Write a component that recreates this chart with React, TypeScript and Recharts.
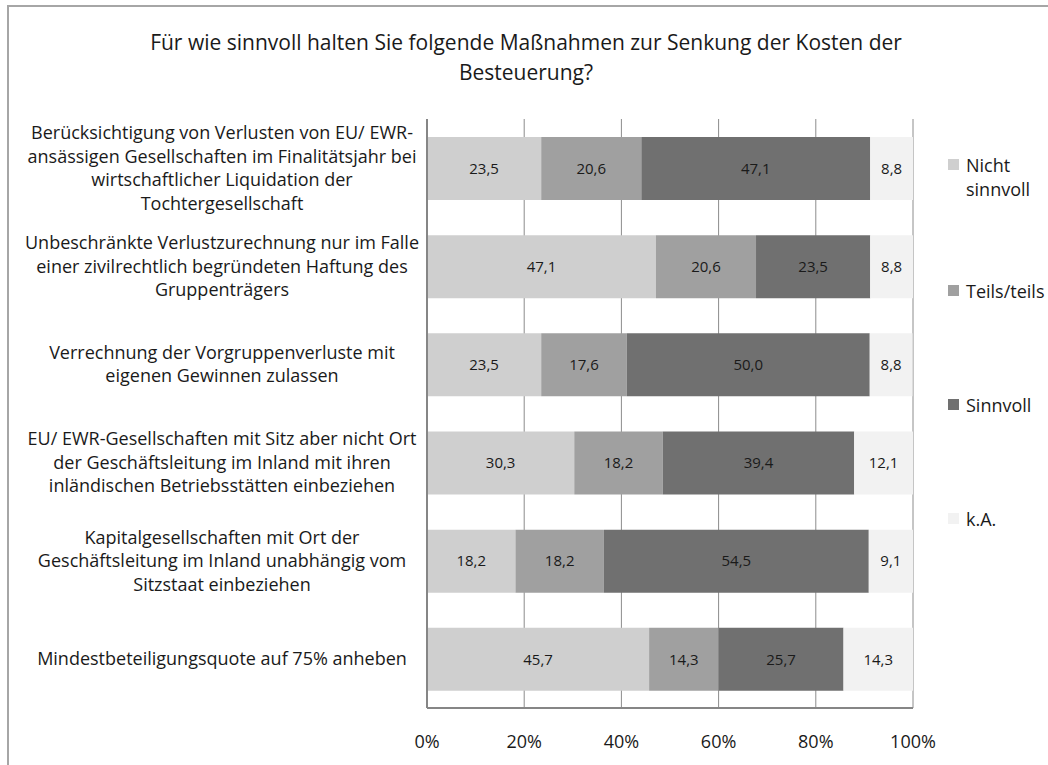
import React from 'react';
import { BarChart, Bar, XAxis, YAxis, CartesianGrid, LabelList } from 'recharts';

// Categories (line breaks as in the original chart)
const categories = [
  'Berücksichtigung von Verlusten von EU/ EWR-\nansässigen Gesellschaften im Finalitätsjahr bei\nwirtschaftlicher Liquidation der\nTochtergesellschaft',
  'Unbeschränkte Verlustzurechnung nur im Falle\neiner zivilrechtlich begründeten Haftung des\nGruppenträgers',
  'Verrechnung der Vorgruppenverluste mit\neigenen Gewinnen zulassen',
  'EU/ EWR-Gesellschaften mit Sitz aber nicht Ort\nder Geschäftsleitung im Inland mit ihren\ninländischen Betriebsstätten einbeziehen',
  'Kapitalgesellschaften mit Ort der\nGeschäftsleitung im Inland unabhängig vom\nSitzstaat einbeziehen',
  'Mindestbeteiligungsquote auf 75% anheben',
];

const nichtSinnvoll = [23.5, 47.1, 23.5, 30.3, 18.2, 45.7];
const teilsTeils = [20.6, 20.6, 17.6, 18.2, 18.2, 14.3];
const sinnvoll = [47.1, 23.5, 50.0, 39.4, 54.5, 25.7];
const keineAngabe = [8.8, 8.8, 8.8, 12.1, 9.1, 14.3];

const xTicks = [0, 20, 40, 60, 80, 100];

const series = [
  { key: 'nicht', name: 'Nicht\nsinnvoll', color: '#cfcfcf' },
  { key: 'teils', name: 'Teils/teils', color: '#a0a0a0' },
  { key: 'sinnvoll', name: 'Sinnvoll', color: '#707070' },
  { key: 'ka', name: 'k.A.', color: '#f2f2f2' },
];

const data = categories.map((name, i) => ({
  name,
  nicht: nichtSinnvoll[i],
  teils: teilsTeils[i],
  sinnvoll: sinnvoll[i],
  ka: keineAngabe[i],
}));

const FONT = '"Liberation Sans Narrow", "Open Sans", sans-serif';
const NUM_FONT = '"Open Sans", sans-serif';

const fmt = (v: any) => Number(v).toFixed(1).replace('.', ',');

function CategoryTick(props: any) {
  const { y, payload } = props;
  const lines = String(payload.value).split('\n');
  const lh = 23.5;
  const startY = y - ((lines.length - 1) * lh) / 2;
  return (
    <text x={222} y={startY} textAnchor="middle" fontFamily={FONT} fontSize={18} fill="#1a1a1a">
      {lines.map((l, i) => (
        <tspan key={i} x={222} y={startY + i * lh} dy="0.35em">
          {l}
        </tspan>
      ))}
    </text>
  );
}

function LegendBox() {
  return (
    <div style={{ position: 'absolute', left: 948, top: 120, fontFamily: FONT, fontSize: 18, color: '#1a1a1a' }}>
      {series.map((s) => (
        <div key={s.key} style={{ height: 114, display: 'flex', alignItems: 'center' }}>
          <div style={{ display: 'flex', alignItems: 'flex-start' }}>
            <div style={{ width: 11, height: 11, background: s.color, marginTop: 6, marginRight: 7 }} />
            <div style={{ whiteSpace: 'pre', lineHeight: '24px' }}>{s.name}</div>
          </div>
        </div>
      ))}
    </div>
  );
}

export default function App() {
  return (
    <div style={{ position: 'absolute', left: 0, top: 0, width: 1048, height: 765, background: '#fff' }}>
      <div
        style={{
          position: 'absolute',
          left: 7,
          top: 5,
          width: 1041,
          height: 760,
          borderTop: '2px solid #a6a6a6',
          borderLeft: '2px solid #a6a6a6',
        }}
      />
      <div
        style={{
          position: 'absolute',
          left: 0,
          top: 27,
          width: 1052,
          textAlign: 'center',
          fontFamily: FONT,
          fontSize: 21,
          lineHeight: '30px',
          color: '#1a1a1a',
        }}
      >
        Für wie sinnvoll halten Sie folgende Maßnahmen zur Senkung der Kosten der
        <br />
        Besteuerung?
      </div>
      <div style={{ position: 'absolute', left: 0, top: 0 }}>
        <BarChart
          width={1048}
          height={765}
          data={data}
          layout="vertical"
          margin={{ top: 119, right: 135, left: 0, bottom: 0 }}
          barSize={63}
        >
          <CartesianGrid horizontal={false} stroke="#8c8c8c" />
          <XAxis
            type="number"
            domain={[0, 100]}
            ticks={xTicks}
            tickFormatter={(v) => `${v}%`}
            tickLine={false}
            axisLine={{ stroke: '#868686', strokeWidth: 2 }}
            tick={{ fontSize: 18, fill: '#1a1a1a', fontFamily: FONT }}
            tickMargin={21}
            height={57}
          />
          <YAxis
            type="category"
            dataKey="name"
            width={427}
            tickLine={false}
            axisLine={{ stroke: '#868686', strokeWidth: 2 }}
            tick={<CategoryTick />}
            interval={0}
          />
          {series.map((s) => (
            <Bar key={s.key} dataKey={s.key} name={s.name} stackId="a" fill={s.color} isAnimationActive={false}>
              <LabelList
                dataKey={s.key}
                position="center"
                formatter={fmt}
                style={{ fontSize: 15, fill: '#1a1a1a', fontFamily: NUM_FONT }}
              />
            </Bar>
          ))}
        </BarChart>
      </div>
      <LegendBox />
    </div>
  );
}
